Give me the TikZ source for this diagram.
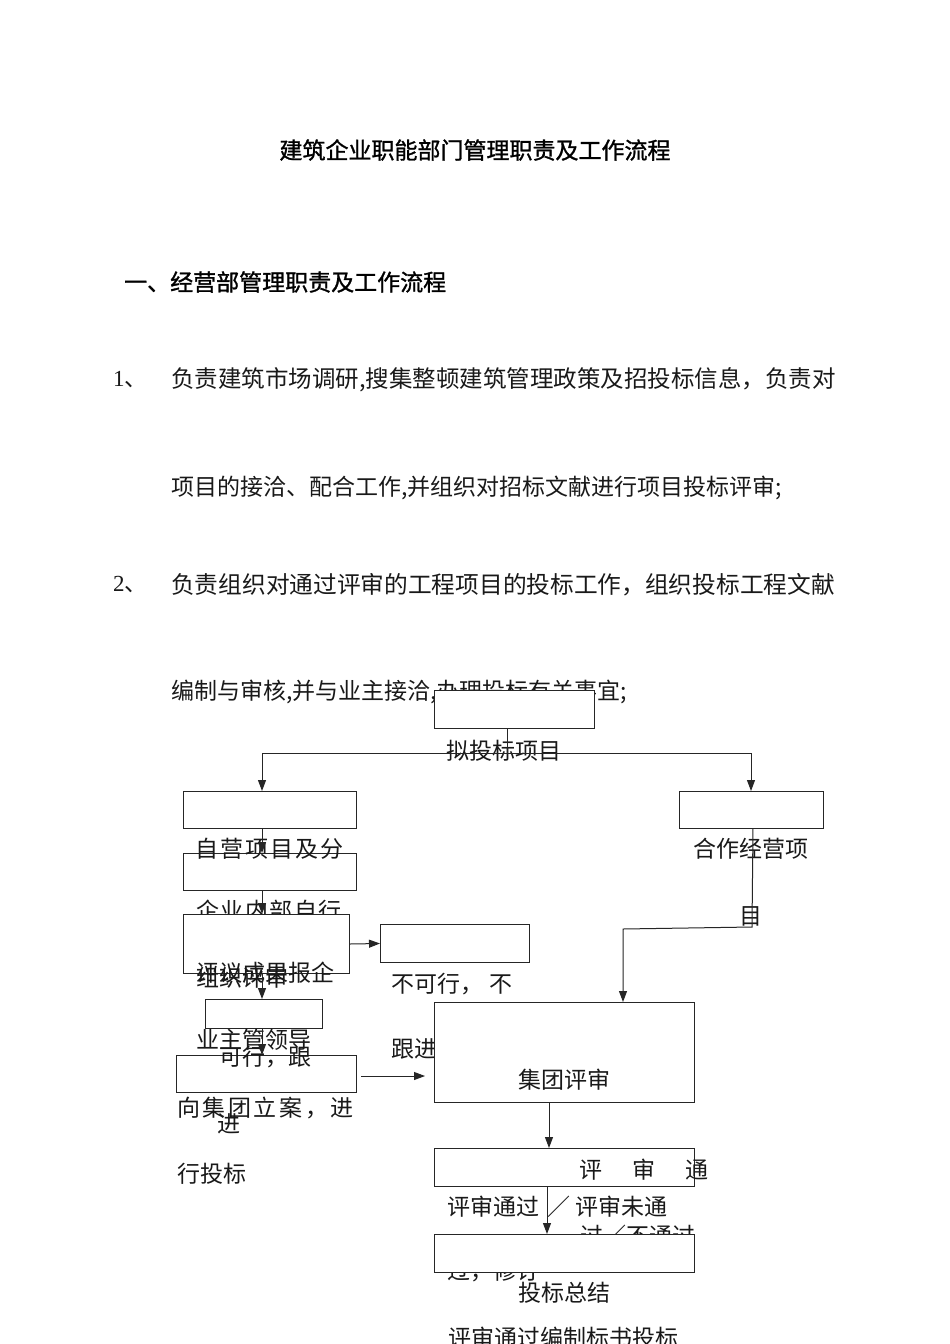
\documentclass[tikz,border=0pt]{standalone}
\usepackage{fontspec}
\newfontfamily\cjk{Noto Sans CJK SC}
\newfontfamily\cjkbold[FakeBold=1.2]{Noto Sans CJK SC}
\newfontfamily\numfont{Liberation Serif}
\usetikzlibrary{arrows.meta}
\begin{document}
\begin{tikzpicture}[x=1pt,y=-1pt,
  box/.style={draw=black!85, fill=white, line width=1pt, inner sep=0pt, anchor=north west},
  txt/.style={font=\cjk\fontsize{23}{23}\selectfont, inner sep=0pt, text=black!90, anchor=west},
  ttl/.style={font=\cjkbold\fontsize{23}{23}\selectfont, inner sep=0pt, text=black},
  ln/.style={draw=black!85, line width=1pt},
  arr/.style={draw=black!85, line width=1pt, -{Triangle[length=11pt,width=8pt]}}]
\useasboundingbox (0,0) rectangle (950,1344);
\fill[white] (0,0) rectangle (950,1344);

% --- header text
\node[ttl] (title) at (475,150) {建筑企业职能部门管理职责及工作流程};
\node[ttl, anchor=west] (head) at (124,282) {一、经营部管理职责及工作流程};
\node[txt] (n1) at (113,380) {{\numfont 1}、};
\node[txt, font=\cjk\fontsize{23.5}{23.5}\selectfont] (p1) at (171,380) {负责建筑市场调研,搜集整顿建筑管理政策及招投标信息，负责对};
\node[txt] (p2) at (171,488) {项目的接洽、配合工作,并组织对招标文献进行项目投标评审;};
\node[txt] (n2) at (113,585) {{\numfont 2}、};
\node[txt, font=\cjk\fontsize{23.7}{23.7}\selectfont] (p3) at (171,585) {负责组织对通过评审的工程项目的投标工作，组织投标工程文献};
\node[txt] (p4) at (171,692) {编制与审核,并与业主接洽,办理投标有关事宜;};

% --- boxes and their texts (in drawing order)
\node[box, minimum width=160pt, minimum height=38pt] (b1) at (434,690) {};
\node[txt, anchor=center] (t1) at (504,751) {拟投标项目};

\node[box, minimum width=173pt, minimum height=37pt] (b2) at (183,791) {};
\node[box, minimum width=144pt, minimum height=37pt] (b3) at (679,791) {};
\node[txt] (t3) at (693,849) {合作经营项};
\node[txt, anchor=center] (t3b) at (751,916) {目};

\node[box, minimum width=173pt, minimum height=37pt] (b4) at (183,853) {};
\node[txt] (t2) at (195,849) {自\hspace{2pt}营\hspace{2pt}项\hspace{2pt}目\hspace{2pt}及\hspace{2pt}分};
\node[txt] (t4) at (196,911) {企\hspace{1.5pt}业\hspace{1.5pt}内\hspace{1.5pt}部\hspace{1.5pt}自\hspace{1.5pt}行};

\node[box, minimum width=166pt, minimum height=59pt] (b5) at (183,914) {};
\node[txt] (t5b) at (196,978) {组织评审};
\node[txt] (t5) at (196,973) {评议成果报企};

\node[box, minimum width=149pt, minimum height=38pt] (b6) at (380,924) {};
\node[txt] (t6) at (391,984) {不可行，\hspace{6pt}不};
\node[txt] (t6b) at (391,1049) {跟进};

\node[box, minimum width=117pt, minimum height=29pt] (b7) at (205,999) {};
\node[box, minimum width=180pt, minimum height=37pt] (b8) at (176,1055) {};
\node[txt] (t7) at (196,1040) {业主管领导};
\node[txt] (t7b) at (219,1057) {可行，跟};
\node[txt] (t8) at (177,1108) {向\hspace{2.6pt}集\hspace{2.6pt}团\hspace{2.6pt}立\hspace{2.6pt}案\hspace{2.6pt}，\hspace{2.6pt}进};
\node[txt] (t8b) at (217,1124) {进};
\node[txt] (t8c) at (177,1174) {行投标};

\node[box, minimum width=260pt, minimum height=100pt] (b9) at (434,1002) {};
\node[txt, anchor=center] (t9) at (564,1080) {集团评审};

\node[box, minimum width=260pt, minimum height=38pt] (b10) at (434,1148) {};
\node[txt] (t10) at (579,1170) {评\hspace{30pt}审\hspace{30pt}通};
\node[txt] (t10b) at (447,1207) {评审通过\hspace{8pt}／\hspace{5pt}评审未通};
\node[txt] (t10c) at (580,1236) {过／不通过};
\node[txt] (t10d) at (447,1271) {过，修订};

\node[box, minimum width=260pt, minimum height=38pt] (b11) at (434,1234) {};
\node[txt, anchor=center] (t11) at (564,1293) {投标总结};
\node[txt] (t11b) at (448,1338) {评审通过编制标书投标};

% --- connectors
\coordinate (j1) at (507,753);
\coordinate (jl) at (262,753);
\coordinate (jr) at (751,753);
\draw[ln] (j1 |- b1.south) -- (j1);
\draw[ln] (jl) -- (jr);
\draw[arr] (jl) -- (jl |- b2.north);
\draw[arr] (jr) -- (jr |- b3.north);
\draw[arr] (jl |- b2.south) -- (jl |- b4.north);
\draw[arr] (jl |- b4.south) -- (jl |- b5.north);
\draw[arr] (b5.east) -- (b6.west);
\draw[arr] (jl |- b5.south) -- (jl |- b7.north);
\draw[arr] (jl |- b7.south) -- (jl |- b8.north);
\coordinate (c8) at (361,1076);
\coordinate (c9) at (425,1076);
\draw[arr] (c8) -- (c9);
\coordinate (k0) at (753,828);
\coordinate (k1) at (752,927);
\coordinate (k2) at (623,929);
\draw[arr] (k0) -- (k1) -- (k2) -- (k2 |- b9.north);
\coordinate (m9) at (549,1102);
\draw[arr] (m9 |- b9.south) -- (m9 |- b10.north);
\coordinate (m10) at (547,1186);
\draw[arr] (m10 |- b10.south) -- (m10 |- b11.north);
\end{tikzpicture}
\end{document}
